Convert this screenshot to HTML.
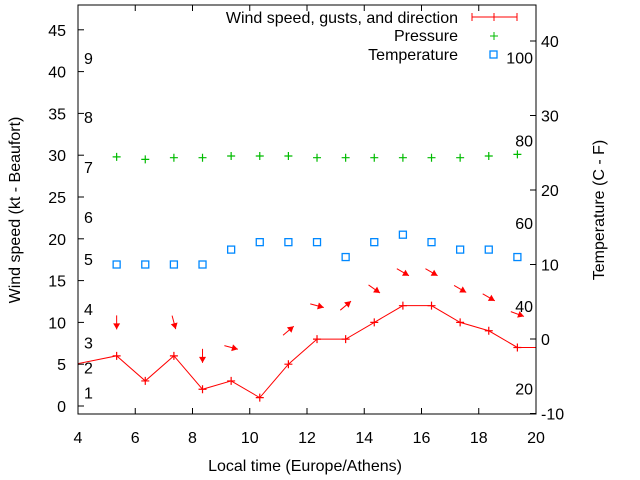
<!DOCTYPE html>
<html><head><meta charset="utf-8"><style>
html,body{margin:0;padding:0;background:#fff;}
svg{display:block;font-family:"Liberation Sans",sans-serif;}
</style></head><body>
<svg id="chart" width="640" height="480" viewBox="0 0 640 480" xmlns="http://www.w3.org/2000/svg">
<rect width="640" height="480" fill="#fff"/>
<g id="marks"></g>
<rect x="78" y="5" width="458" height="409" fill="none" stroke="#000" stroke-width="1"/>
<g id="axes" font-size="16" fill="#000"></g>
<text x="305" y="471" font-size="16" text-anchor="middle">Local time (Europe/Athens)</text>
<text transform="translate(20,210) rotate(-90)" font-size="16" text-anchor="middle">Wind speed (kt - Beaufort)</text>
<text transform="translate(604,210) rotate(-90)" font-size="16" text-anchor="middle">Temperature (C - F)</text>
<g font-size="16">
<text x="458" y="23" text-anchor="end">Wind speed, gusts, and direction</text>
<line x1="472" y1="17" x2="517" y2="17" stroke="#f00"/><line x1="472" y1="13" x2="472" y2="21" stroke="#f00"/><line x1="517" y1="13" x2="517" y2="21" stroke="#f00"/><line x1="494" y1="13" x2="494" y2="21" stroke="#f00"/>
<text x="458" y="41" text-anchor="end">Pressure</text>
<path d="M490 36h8M494 32v8" stroke="#0b0"/>
<text x="458" y="60" text-anchor="end">Temperature</text>
<rect x="490" y="51" width="7" height="7" fill="none" stroke="#08f" stroke-width="1.3"/>
</g>
</svg>
<script>
const times = [3.9, 5.35, 6.35, 7.35, 8.35, 9.35, 10.35, 11.35, 12.35, 13.35, 14.35, 15.35, 16.35, 17.35, 18.35, 19.35, 20.5];
const windSpeed = [5, 6, 3, 6, 2, 3, 1, 5, 8, 8, 10, 12, 12, 10, 9, 7, 7];
const arrowAngle = [null, 90, null, 75, 90, 15, null, -40, 15, -40, 35, 30, 30, 30, 30, 20, null];
const ptTimes = [5.35, 6.35, 7.35, 8.35, 9.35, 10.35, 11.35, 12.35, 13.35, 14.35, 15.35, 16.35, 17.35, 18.35, 19.35];
const pressure = [29.8, 29.5, 29.7, 29.7, 29.9, 29.9, 29.9, 29.7, 29.7, 29.7, 29.7, 29.7, 29.7, 29.9, 30.1];
const temperature = [10, 10, 10, 10, 12, 13, 13, 13, 11, 13, 14, 13, 12, 12, 11];
const xTicks = [4, 6, 8, 10, 12, 14, 16, 18, 20];
const yTicks = [0, 5, 10, 15, 20, 25, 30, 35, 40, 45];
const y2Ticks = [-10, 0, 10, 20, 30, 40];
const beaufort = [[1, 1], [2, 4], [3, 7], [4, 11], [5, 17], [6, 22], [7, 28], [8, 34], [9, 41]];
const fahrenheit = [20, 40, 60, 80, 100];

const NS = "http://www.w3.org/2000/svg";
const X = t => 78 + (t - 4) * 28.625;
const Y = v => 406 - v * 8.36;
const Y2 = c => 339 - c * 7.45;
const marks = document.getElementById('marks');
const axes = document.getElementById('axes');
function mk(tag, attrs, parent) { const e = document.createElementNS(NS, tag); for (const k in attrs) e.setAttribute(k, attrs[k]); parent.appendChild(e); return e; }

const defs = mk('defs', {}, marks);
const cp = mk('clipPath', {id: 'clip'}, defs);
mk('rect', {x: 78, y: 5, width: 458, height: 409}, cp);
const g = mk('g', {'clip-path': 'url(#clip)'}, marks);

xTicks.forEach(t => {
  const x = X(t);
  const tk = mk('path', {d: `M${x} 414v-6M${x} 5v6`, stroke: '#000'}, axes);
  
  
  const l = mk('text', {x: x, y: 443, 'text-anchor': 'middle'}, axes);
  
  
  l.textContent = t;
});
yTicks.forEach(v => {
  const y = Y(v);
  const tk = mk('path', {d: `M78 ${y}h6`, stroke: '#000'}, axes);
  
  
  const l = mk('text', {x: 66, y: y + 6, 'text-anchor': 'end'}, axes);
  
  
  l.textContent = v;
});
y2Ticks.forEach(c => {
  const y = Y2(c);
  const tk = mk('path', {d: `M536 ${y}h-6`, stroke: '#000'}, axes);
  
  
  const l = mk('text', {x: 541, y: y + 6, 'text-anchor': 'start'}, axes);
  
  
  l.textContent = c;
});
beaufort.forEach(b => {
  const l = mk('text', {x: 84, y: Y(b[1]) + 1, 'text-anchor': 'start'}, axes);
  
  
  l.textContent = b[0];
});
fahrenheit.forEach(f => {
  const c = (f - 32) * 5 / 9;
  const l = mk('text', {x: 533, y: Y2(c) + 6, 'text-anchor': 'end'}, axes);
  
  
  l.textContent = f;
});

const wl = mk('polyline', {points: times.map((t, i) => X(t) + ',' + Y(windSpeed[i])).join(' '), fill: 'none', stroke: '#f00', 'stroke-width': 1}, g);


times.forEach((t, i) => {
  const x = X(t), y = Y(windSpeed[i]);
  const p = mk('path', {d: `M${x-4} ${y}h8M${x} ${y-4}v8`, stroke: '#f00', 'stroke-width': 1.2}, g);
  
  
  const a = arrowAngle[i];
  if (a !== null) {
    const cx = X(t), cy = Y(windSpeed[i] + 4);
    const r = a * Math.PI / 180, L = 7;
    const dx = Math.cos(r), dy = Math.sin(r);
    const x1 = cx - dx * L, y1 = cy - dy * L, x2 = cx + dx * L, y2 = cy + dy * L;
    const ln = mk('line', {x1, y1, x2, y2, stroke: '#f00', 'stroke-width': 1}, g);
    
    
    const hx = x2 - dx * 6, hy = y2 - dy * 6, px = -dy * 3.5, py = dx * 3.5;
    const hd = mk('polygon', {points: `${x2},${y2} ${hx+px},${hy+py} ${hx-px},${hy-py}`, fill: '#f00'}, g);
    
    
  }
});
ptTimes.forEach((t, i) => {
  const x = X(t), y = Y(pressure[i]);
  const p = mk('path', {d: `M${x-4} ${y}h8M${x} ${y-4}v8`, stroke: '#0b0', 'stroke-width': 1.2}, g);
  
  
});
ptTimes.forEach((t, i) => {
  const x = X(t), y = Y2(temperature[i]);
  const s = mk('rect', {x: x - 3.5, y: y - 3.5, width: 7, height: 7, fill: 'none', stroke: '#08f', 'stroke-width': 1.3}, g);
  
  
});
</script>
</body></html>
